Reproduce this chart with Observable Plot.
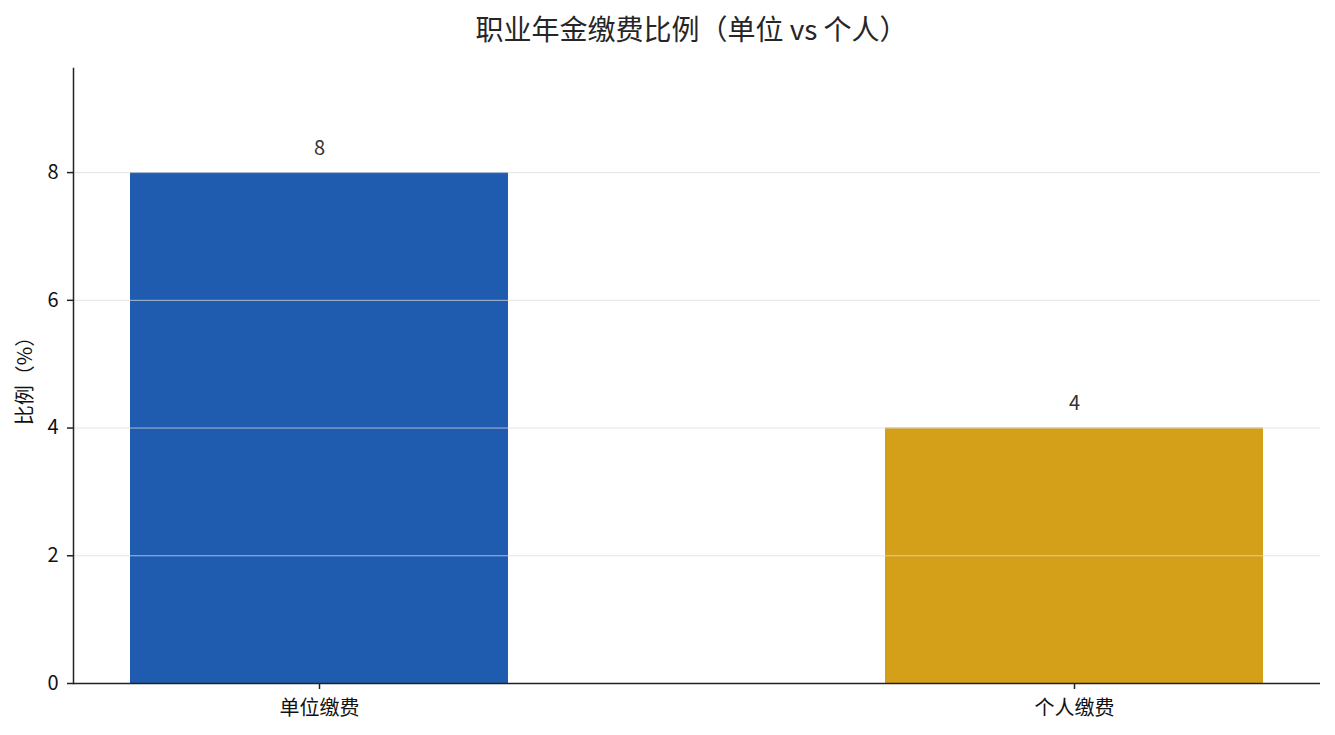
<!DOCTYPE html>
<html>
<head>
<meta charset="utf-8">
<script src="https://cdn.jsdelivr.net/npm/d3@7"></script>
<script src="https://cdn.jsdelivr.net/npm/@observablehq/plot@0.6"></script>
<style>
  body { margin: 0; background: #fff; font-family: "Noto Sans CJK SC", "Noto Sans", sans-serif; }
  #title { height: 56px; line-height: 56px; text-align: center; font-size: 28px; color: #262626; padding-left: 63px; padding-right: 15px; }
</style>
</head>
<body>
<div id="title">职业年金缴费比例（单位 vs 个人）</div>
<div id="chart"></div>
<script>
const categories = ["单位缴费", "个人缴费"];
const values = [8, 4];
const colors = ["#1f5baf", "#d4a01a"];
const yTicks = [0, 2, 4, 6, 8];
const gridTicks = [2, 4, 6, 8];

const data = categories.map((c, i) => ({category: c, value: values[i], color: colors[i]}));

const chart = Plot.plot({
  width: 1335,
  height: 679,
  marginTop: 12,
  marginBottom: 52,
  marginLeft: 73,
  marginRight: 15,
  style: {fontFamily: '"Noto Sans CJK SC", "Noto Sans", sans-serif', fontSize: "20px", color: "#111", background: "#fff"},
  x: {domain: categories, paddingInner: 0.5, paddingOuter: 0.075, label: null},
  y: {domain: [0, 9.63], label: null},
  marks: [
    Plot.barY(data, {x: "category", y: "value", fill: "color"}),
    Plot.ruleY(gridTicks, {stroke: "#dcdcdc", strokeOpacity: 0.75, strokeWidth: 1}),
    Plot.text(data, {x: "category", y: "value", text: d => String(d.value), dy: -24, fill: "#333", fontSize: 20}),
    Plot.axisY(yTicks, {tickSize: 6, tickPadding: 9, stroke: "#222", strokeWidth: 1.5, fontSize: 20, label: "比例（%）", labelAnchor: "center", labelArrow: "none", labelOffset: 56, tickFormat: d => String(d)}),
    Plot.axisX({tickSize: 6, tickPadding: 11, stroke: "#222", strokeWidth: 1.5, fontSize: 20, label: null}),
    Plot.ruleY([0], {stroke: "#222", strokeWidth: 1.5}),
    Plot.frame({anchor: "left", stroke: "#222", strokeWidth: 1.5})
  ]
});
document.getElementById("chart").appendChild(chart);
</script>
</body>
</html>
